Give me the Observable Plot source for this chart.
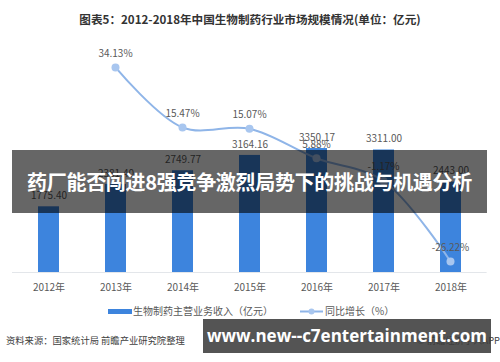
<!DOCTYPE html>
<html>
<head>
<meta charset="utf-8">
<script src="https://cdn.jsdelivr.net/npm/d3@7"></script>
<script src="https://cdn.jsdelivr.net/npm/@observablehq/plot@0.6"></script>
<style>
  html, body { margin: 0; padding: 0; background: #fff; }
  body { font-family: "Noto Sans CJK SC", "Noto Sans", sans-serif; }
  #root { position: relative; width: 500px; height: 362px; overflow: hidden; background: #fff; }
  .abs { position: absolute; }
  #title { left: 0; width: 500px; top: 11px; text-align: center; font-size: 11.6px; font-weight: bold; color: #333; white-space: nowrap; }
  #bars, #line { left: 0; top: 40px; }
  #legend { left: 0; top: 303px; width: 500px; font-size: 10px; color: #595959; white-space: nowrap; }
  #source { left: 6px; top: 333px; font-size: 9.3px; color: #404040; white-space: nowrap; }
  #app { right: 0px; top: 333px; font-size: 9.3px; color: #404040; white-space: nowrap; }
  #banner { left: 12px; top: 150px; width: 475px; height: 63px; background: rgba(0,0,0,0.6); color: #fff; font-weight: bold; font-size: 20px; line-height: 63px; text-align: center; white-space: nowrap; letter-spacing: -0.3px; }
  #urlbox { left: 203px; top: 319px; width: 288px; height: 34px; background: rgba(60,60,60,0.88); color: #fff; font-weight: bold; font-size: 17px; line-height: 33px; text-align: center; white-space: nowrap; font-family: "Open Sans", sans-serif; }
</style>
</head>
<body>
<div id="root">
  <div id="title" class="abs">图表5：2012-2018年中国生物制药行业市场规模情况(单位：亿元)</div>
  <div id="bars" class="abs"></div>
  <div id="line" class="abs"></div>
  <div id="legend" class="abs"></div>
  <div id="source" class="abs">资料来源：国家统计局 前瞻产业研究院整理</div>
  <div id="app" class="abs">© 前瞻经济学人APP</div>
  <div id="banner" class="abs">药厂能否闯进8强竞争激烈局势下的挑战与机遇分析</div>
  <div id="urlbox" class="abs">www.new--c7entertainment.com</div>
</div>
<script>
// ---- data ----
const years = ["2012年", "2013年", "2014年", "2015年", "2016年", "2017年", "2018年"];
const revenue = [1775.40, 2381.40, 2749.77, 3164.16, 3350.17, 3311.00, 2443.00];
const growthYears = ["2013年", "2014年", "2015年", "2016年", "2017年", "2018年"];
const growth = [34.13, 15.47, 15.07, 5.88, -1.17, -26.22];
const seriesNames = ["生物制药主营业务收入（亿元）", "同比增长（%）"];

const barColor = "#3d84dd";
const lineColor = "#8fb5e8";
const dotColor = "#a8c6ef";
const labelColor = "#595959";

const barData = years.map((y, i) => ({year: y, value: revenue[i]}));
const lineData = growthYears.map((y, i) => ({year: y, value: growth[i]}));

const W = 500, H = 260;
const xScale = {domain: years, paddingInner: 0.69, paddingOuter: 0.345, label: null};
const common = {width: W, height: H, marginLeft: 12, marginRight: 13.4, marginTop: 0, marginBottom: 28,
  style: {fontFamily: '"Noto Sans CJK SC", sans-serif', background: "transparent", overflow: "visible"}};

const barsPlot = Plot.plot({
  ...common,
  x: {...xScale, axis: null},
  y: {domain: [0, 6270], axis: null},
  marks: [
    Plot.barY(barData, {x: "year", y: "value", fill: barColor}),
    Plot.ruleY([0], {stroke: "#e3e6ea", strokeWidth: 1}),
    Plot.text(barData, {x: "year", y: "value", text: d => d.value.toFixed(2), dy: -11, fontSize: 10, fill: labelColor}),
    Plot.axisX({tickSize: 0, tickPadding: 11, fontSize: 10, color: labelColor, label: null})
  ]
});
document.getElementById("bars").appendChild(barsPlot);

const linePlot = Plot.plot({
  ...common,
  x: {...xScale, axis: null},
  y: {domain: [-29.64, 42.52], axis: null},
  marks: [
    Plot.line(lineData, {x: "year", y: "value", curve: "catmull-rom", stroke: lineColor, strokeWidth: 2}),
    Plot.dot(lineData, {x: "year", y: "value", r: 4, fill: dotColor, stroke: "none"}),
    Plot.text(lineData, {x: "year", y: "value", text: d => d.value.toFixed(2) + "%", dy: -14, fontSize: 10, fill: labelColor})
  ]
});
document.getElementById("line").appendChild(linePlot);

// legend
const leg = d3.select("#legend").append("svg").attr("width", 500).attr("height", 16);
leg.append("rect").attr("x", 108).attr("y", 6).attr("width", 24).attr("height", 5).attr("fill", barColor);
leg.append("text").attr("x", 133).attr("y", 12).attr("font-size", 10).attr("fill", labelColor).text(seriesNames[0]);
leg.append("line").attr("x1", 300).attr("x2", 323).attr("y1", 8.5).attr("y2", 8.5).attr("stroke", lineColor).attr("stroke-width", 2);
leg.append("circle").attr("cx", 311.5).attr("cy", 8.5).attr("r", 3).attr("fill", dotColor);
leg.append("text").attr("x", 325).attr("y", 12).attr("font-size", 10).attr("fill", labelColor).text(seriesNames[1]);
</script>
</body>
</html>
